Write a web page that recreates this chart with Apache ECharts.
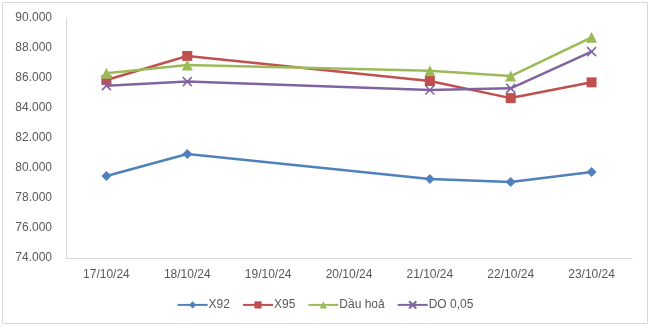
<!DOCTYPE html>
<html>
<head>
<meta charset="utf-8">
<script src="https://cdn.jsdelivr.net/npm/echarts@6/dist/echarts.min.js"></script>
<style>
  html, body { margin: 0; padding: 0; background: #fff; }
  #chart { width: 650px; height: 327px; }
</style>
</head>
<body>
<div id="chart"></div>
<script>
// Trading dates (no quotes on the weekend, lines bridge the gap)
const dates = ['17/10/24', '18/10/24', '19/10/24', '20/10/24', '21/10/24', '22/10/24', '23/10/24'];

// Retail fuel prices, VND per litre
const x92    = [79470, 80930, null, null, 79260, 79060, 79730];
const x95    = [85870, 87470, null, null, 85800, 84660, 85710];
const dauHoa = [86310, 86870, null, null, 86490, 86130, 88710];
const do005  = [85490, 85760, null, null, 85200, 85310, 87760];

const seriesNames = ['X92', 'X95', 'Dầu hoả', 'DO 0,05'];
const seriesColors = ['#4F81BD', '#C0504D', '#9BBB59', '#8064A2'];

// Y axis range and step
const yMin = 74000, yMax = 90000, yStep = 2000;

function fmtThousands(v) {
  return String(Math.round(v)).replace(/\B(?=(\d{3})+(?!\d))/g, '.');
}

const crossPath = 'path://M0,0L10,10M10,0L0,10';

const chart = echarts.init(document.getElementById('chart'));

function lineSeries(name, data, color, symbol, size, extra) {
  return Object.assign({
    name: name,
    type: 'line',
    data: data,
    connectNulls: true,
    symbol: symbol,
    symbolSize: size,
    lineStyle: { color: color, width: 2.5 },
    itemStyle: { color: color },
    emphasis: { disabled: true },
    z: 3
  }, extra || {});
}

chart.setOption({
  animation: false,
  textStyle: { fontFamily: 'Liberation Sans, Arial, sans-serif' },
  graphic: [{
    type: 'rect',
    shape: { x: 2.5, y: 2.5, width: 645, height: 321 },
    style: { fill: 'none', stroke: '#d9d9d9', lineWidth: 1 },
    silent: true,
    z: -1
  }],
  grid: { left: 66, right: 18, top: 18, bottom: 69 },
  xAxis: {
    type: 'category',
    data: dates,
    boundaryGap: true,
    axisLine: { show: true, lineStyle: { color: '#d9d9d9', width: 1 } },
    axisTick: { show: false },
    axisLabel: { color: '#595959', fontSize: 12, margin: 11, interval: 0 },
    splitLine: { show: false }
  },
  yAxis: {
    type: 'value',
    min: yMin,
    max: yMax,
    interval: yStep,
    axisLine: { show: true, lineStyle: { color: '#d9d9d9', width: 1 } },
    axisTick: { show: false },
    splitLine: { show: false },
    axisLabel: { color: '#595959', fontSize: 12, margin: 14, formatter: fmtThousands }
  },
  legend: {
    bottom: 11,
    left: 'center',
    itemWidth: 30,
    itemHeight: 9,
    itemGap: 12,
    textStyle: { color: '#595959', fontSize: 12, padding: [0, 0, 0, -4] },
    data: seriesNames
  },
  series: [
    lineSeries(seriesNames[0], x92, seriesColors[0], 'diamond', 10),
    lineSeries(seriesNames[1], x95, seriesColors[1], 'rect', 10),
    lineSeries(seriesNames[2], dauHoa, seriesColors[2], 'triangle', 11),
    lineSeries(seriesNames[3], do005, seriesColors[3], crossPath, 9, {
      itemStyle: { color: 'none', borderColor: seriesColors[3], borderWidth: 1.5 }
    })
  ]
});
</script>
</body>
</html>
